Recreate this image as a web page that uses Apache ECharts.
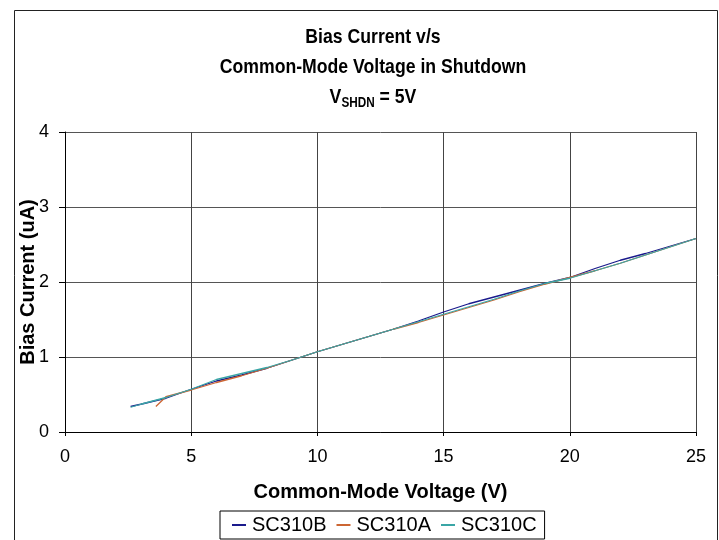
<!DOCTYPE html>
<html>
<head>
<meta charset="utf-8">
<script src="https://cdn.jsdelivr.net/npm/echarts@6/dist/echarts.min.js"></script>
<style>
  html, body { margin: 0; padding: 0; background: #fff; }
  #chart { width: 719px; height: 540px; }
</style>
</head>
<body>
<div id="chart"></div>
<script>
// common-mode voltage (V) / bias current (uA)
const vB = [2.6, 3, 4, 5, 6, 7, 8, 9, 10, 11, 12, 13, 14, 15, 16, 17, 18, 19, 20, 21, 22, 23, 24, 25];
const iB = [0.34, 0.37, 0.45, 0.57, 0.68, 0.76, 0.85, 0.96, 1.07, 1.17, 1.27, 1.37, 1.48, 1.60, 1.71, 1.80, 1.89, 1.98, 2.06, 2.18, 2.29, 2.38, 2.48, 2.58];

const vA = [3.6, 4, 5, 6, 7, 8, 9, 10, 11, 12, 13, 14, 15, 16, 17, 18, 19, 20, 21, 22, 23, 24, 25];
const iA = [0.34, 0.47, 0.56, 0.66, 0.75, 0.85, 0.96, 1.07, 1.17, 1.27, 1.37, 1.46, 1.56, 1.66, 1.76, 1.87, 1.97, 2.06, 2.15, 2.25, 2.36, 2.47, 2.58];

const vC = [2.6, 3, 4, 5, 6, 7, 8, 9, 10, 11, 12, 13, 14, 15, 16, 17, 18, 19, 20, 21, 22, 23, 24, 25];
const iC = [0.33, 0.37, 0.46, 0.57, 0.70, 0.78, 0.86, 0.96, 1.07, 1.17, 1.27, 1.37, 1.47, 1.57, 1.67, 1.77, 1.88, 1.98, 2.05, 2.15, 2.25, 2.36, 2.47, 2.58];

const seriesNames = ["SC310B", "SC310A", "SC310C"];
const colors = ["#1a1a8c", "#cc6633", "#3aa6a6"];
const titleLines = ["Bias Current v/s", "Common-Mode Voltage in Shutdown"];

const zip = (xs, ys) => xs.map((x, i) => [x, ys[i]]);
const seriesData = [zip(vB, iB), zip(vA, iA), zip(vC, iC)];

const font = "Liberation Sans, Arial, sans-serif";
const chart = echarts.init(document.getElementById("chart"));

// the title font is a condensed bold face; squeeze Liberation Sans to look like it
const titleText = (text, y, extra) => ({
  type: "text",
  x: 373,
  y: y,
  scaleX: 0.84,
  silent: true,
  style: Object.assign({
    text: text,
    font: "bold 21px " + font,
    fill: "#000",
    align: "center",
    verticalAlign: "middle"
  }, extra || {})
});

chart.setOption({
  backgroundColor: "#fff",
  animation: false,
  textStyle: { fontFamily: font },
  graphic: [
    {
      type: "rect",
      left: 12,
      top: 8,
      shape: { width: 703, height: 545 },
      style: { fill: "none", stroke: "#222", lineWidth: 1 },
      silent: true
    },
    titleText(titleLines[0], 37),
    titleText(titleLines[1], 67),
    titleText("{m|V}{s|SHDN}{m| = 5V}", 97, {
      rich: {
        m: { font: "bold 21px " + font, fill: "#000", lineHeight: 26 },
        s: { font: "bold 14px " + font, fill: "#000", lineHeight: 26, verticalAlign: "bottom" }
      }
    })
  ],
  legend: {
    data: seriesNames,
    left: 220,
    bottom: 1,
    icon: "rect",
    itemWidth: 14,
    itemHeight: 2,
    itemGap: 10,
    padding: [4, 8, 4, 12],
    borderColor: "#000",
    borderWidth: 1,
    textStyle: { fontSize: 20, color: "#000", fontFamily: font, padding: [0, 0, 0, 1] }
  },
  grid: { left: 65, right: 23, top: 132, bottom: 108 },
  xAxis: {
    type: "value",
    min: 0,
    max: 25,
    interval: 5,
    name: "Common-Mode Voltage (V)",
    nameLocation: "middle",
    nameGap: 50,
    nameTextStyle: { fontSize: 20, fontWeight: "bold", color: "#000", fontFamily: font },
    axisLine: { lineStyle: { color: "#000", width: 1 } },
    axisTick: { show: true, length: 4, lineStyle: { color: "#000" } },
    axisLabel: { fontSize: 18, color: "#000", margin: 16, fontFamily: font },
    splitLine: { show: true, lineStyle: { color: "#444", width: 1 } }
  },
  yAxis: {
    type: "value",
    min: 0,
    max: 4,
    interval: 1,
    name: "Bias Current (uA)",
    nameLocation: "middle",
    nameGap: 27,
    nameMoveOverlap: false,
    nameTextStyle: { fontSize: 20, fontWeight: "bold", color: "#000", fontFamily: font },
    axisLine: { show: true, lineStyle: { color: "#000", width: 1 } },
    axisTick: { show: true, length: 6, lineStyle: { color: "#000" } },
    axisLabel: { fontSize: 18, color: "#000", margin: 16, fontFamily: font },
    splitLine: { show: true, lineStyle: { color: "#555", width: 1 } }
  },
  series: seriesNames.map((name, i) => ({
    name: name,
    type: "line",
    data: seriesData[i],
    showSymbol: false,
    symbol: "none",
    smooth: false,
    color: colors[i],
    lineStyle: { width: 1.3, color: colors[i] }
  }))
});
</script>
</body>
</html>
